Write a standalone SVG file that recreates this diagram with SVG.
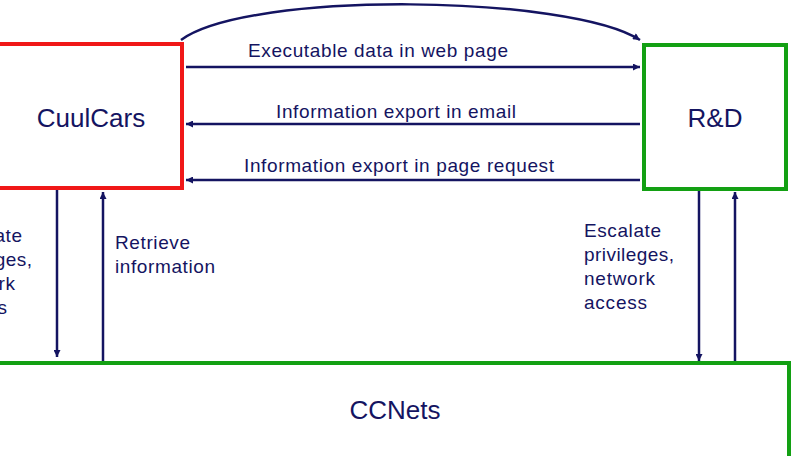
<svg xmlns="http://www.w3.org/2000/svg" width="791" height="456" viewBox="0 0 791 456">
<defs>
<marker id="ah" viewBox="0 0 10 10" refX="10" refY="5" markerWidth="9" markerHeight="7" markerUnits="userSpaceOnUse" orient="auto"><path d="M0,0 L10,5 L0,10 z" fill="#141461"/></marker>
<style>
.t{font-family:"Liberation Sans",Arial,sans-serif;fill:#141461;font-size:19px}
.n{font-family:"Liberation Sans",Arial,sans-serif;fill:#141461;font-size:26px}
.c{stroke:#141461;stroke-width:2.5;fill:none;marker-end:url(#ah)}
</style>
</defs>
<rect width="791" height="456" fill="#fff"/>
<g id="cuulcars"><rect x="-2" y="44" width="184" height="144" fill="#fff" stroke="#f01818" stroke-width="4"/><text class="n" x="91" y="127" text-anchor="middle">CuulCars</text></g>
<g id="rnd"><rect x="644" y="45" width="142" height="144" fill="#fff" stroke="#13a013" stroke-width="4"/><text class="n" x="715" y="127" text-anchor="middle">R&amp;D</text></g>
<g id="ccnets"><rect x="-2" y="363" width="791" height="96" fill="#fff" stroke="#13a013" stroke-width="4"/><text class="n" x="395" y="419" text-anchor="middle">CCNets</text></g>
<g id="connectors">
<path class="c" d="M181,40 C250,-10 570,-5 640,40"/>
<path class="c" d="M186,67 L640,67"/>
<path class="c" d="M640,124 L186,124"/>
<path class="c" d="M640,180 L186,180"/>
<path class="c" d="M57,190 L57,357"/>
<path class="c" d="M103,361 L103,192"/>
<path class="c" d="M699,191 L699,361"/>
<path class="c" d="M735,361 L735,192"/>
</g>
<g id="labels">
<text class="t" x="248" y="57" textLength="260">Executable data in web page</text>
<text class="t" x="276" y="118" textLength="240">Information export in email</text>
<text class="t" x="244" y="172" textLength="310">Information export in page request</text>
<text class="t" x="115" y="249" textLength="75">Retrieve</text>
<text class="t" x="115" y="273" textLength="100">information</text>
<text class="t" x="584" y="237" textLength="77">Escalate</text>
<text class="t" x="584" y="261" textLength="90">privileges,</text>
<text class="t" x="584" y="285" textLength="71">network</text>
<text class="t" x="584" y="309" textLength="63">access</text>
<text class="t" x="-55" y="242" textLength="77">Escalate</text>
<text class="t" x="-58" y="266" textLength="90">privileges,</text>
<text class="t" x="-56" y="290" textLength="71">network</text>
<text class="t" x="-56" y="314" textLength="63">access</text>
</g>
</svg>
